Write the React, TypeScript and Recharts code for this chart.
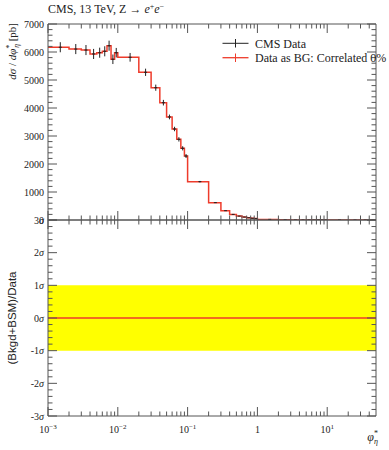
import React from "react";
import { ComposedChart, Line, Scatter, ErrorBar, XAxis, YAxis, ReferenceArea } from "recharts";

// bin edges in phi*_eta
const binEdges = [
    0.001, 0.002, 0.003, 0.004, 0.005, 0.006, 0.007, 0.008, 0.009,
    0.01, 0.02, 0.03, 0.04, 0.05, 0.06, 0.07, 0.08, 0.09,
    0.1, 0.2, 0.3, 0.4, 0.5, 0.6, 0.7, 0.8, 0.9,
    1, 2, 3, 4, 5, 6, 7, 8, 9,
    10, 20, 30, 40, 50,
];
// dsigma/dphi* [pb]
const dataValues = [
    6170, 6105, 6070, 5930, 5975, 6025, 6225, 5740, 5975,
    5810, 5275, 4725, 4190, 3680, 3250, 2880, 2560, 2285,
    1370, 620, 333, 200, 140, 105, 80, 62, 50,
    22, 7, 3, 2, 1.2, 0.8, 0.6, 0.4, 0.3,
    0.1, 0.03, 0.01, 0.005,
];
const dataErrors = [
    180, 180, 180, 180, 180, 180, 180, 170, 170,
    155, 130, 110, 100, 85, 80, 78, 75, 70,
    25, 12, 8, 6, 5, 4, 4, 3, 3,
    1, 0.5, 0.3, 0.2, 0.1, 0.1, 0.1, 0.1, 0.1,
    0.05, 0.02, 0.01, 0.005,
];
// "Data as BG" with 0% correlation is the data itself
const bgValues = dataValues;

const decadeTicks = [0.001, 0.01, 0.1, 1, 10];
const decadeBase = ["10", "10", "10", "1", "10"];
const decadeExp = ["\u22123", "\u22122", "\u22121", "", "1"];
const minorXTicks = [
    0.002, 0.003, 0.004, 0.005, 0.006, 0.007, 0.008, 0.009,
    0.02, 0.03, 0.04, 0.05, 0.06, 0.07, 0.08, 0.09,
    0.2, 0.3, 0.4, 0.5, 0.6, 0.7, 0.8, 0.9,
    2, 3, 4, 5, 6, 7, 8, 9, 20, 30, 40,
];
const upperTicks = [0, 1000, 2000, 3000, 4000, 5000, 6000, 7000];
const upperMinor = upperTicks.flatMap((t) => [200, 400, 600, 800].map((d) => t + d)).filter((v) => v < 7000);
const sigmaTicks = [-3, -2, -1, 0, 1, 2, 3];
const sigmaMinor = sigmaTicks.flatMap((t) => [0.2, 0.4, 0.6, 0.8].map((d) => +(t + d).toFixed(1))).filter((v) => v < 3);

const stepData = binEdges.map((e, i) => ({ x: e, y: bgValues[Math.min(i, bgValues.length - 1)] }));
const pointData = dataValues.map((v, i) => ({
    x: (binEdges[i] + binEdges[i + 1]) / 2,
    y: v,
    err: dataErrors[i],
}));
const pullData = binEdges.map((e, i) => {
    const k = Math.min(i, dataValues.length - 1);
    return { x: e, y: (bgValues[k] - dataValues[k]) / dataErrors[k] };
});

const W = 389;
const H = 450;
const FRAME = "#555";
const RED = "#ee3b2b";
const serif = "'Liberation Serif', serif";

const allX = [...decadeTicks, ...minorXTicks].sort((a, b) => a - b);

// tick with inward line; side = where the axis sits
const makeTick = (side: "bottom" | "top" | "left" | "right", majors: number[], label?: (v: number) => React.ReactNode) => (props: any) => {
    const { x, y, payload } = props;
    const v = payload.value;
    const major = majors.some((m) => Math.abs(m - v) < 1e-9);
    const len = major ? 9 : 4.5;
    let line = null;
    if (side === "bottom") line = <line x1={x} x2={x} y1={y} y2={y - len} stroke={FRAME} />;
    if (side === "top") line = <line x1={x} x2={x} y1={y} y2={y + len} stroke={FRAME} />;
    if (side === "left") line = <line x1={x} x2={x + len} y1={y} y2={y} stroke={FRAME} />;
    if (side === "right") line = <line x1={x} x2={x - len} y1={y} y2={y} stroke={FRAME} />;
    return (
        <g>
            {line}
            {major && label ? label(v) : null}
        </g>
    );
};

const decadeLabel = (x: number, y: number) => (v: number) => {
    const i = decadeTicks.indexOf(v);
    return (
        <text x={x} y={y + 17} textAnchor="middle" fontSize={10} fontFamily={serif} fill="#222">
            <tspan>{decadeBase[i]}</tspan>
            {decadeExp[i] && (
                <tspan dy={-4} fontSize={7}>
                    {decadeExp[i]}
                </tspan>
            )}
        </text>
    );
};

const BottomLabelTick = (props: any) =>
    makeTick("bottom", decadeTicks, decadeLabel(props.x, props.y))(props);

const NumLeftTick = (props: any) =>
    makeTick("left", upperTicks, (v) => (
        <text x={props.x - 4} y={props.y + 3.5} textAnchor="end" fontSize={10} fontFamily={serif} fill="#222">
            {v}
        </text>
    ))(props);

const SigmaLeftTick = (props: any) =>
    makeTick("left", sigmaTicks, (v) => (
        <text x={props.x - 4} y={props.y + 3.5} textAnchor="end" fontSize={10} fontFamily={serif} fill="#222">
            <tspan>{v < 0 ? `-${-v}` : `${v}`}</tspan>
            <tspan fontStyle="italic">{"\u03c3"}</tspan>
        </text>
    ))(props);

const Dash = (props: any) => {
    const { cx, cy } = props;
    if (cx == null || cy == null) return null;
    return <line x1={cx - 1.5} x2={cx + 1.5} y1={cy} y2={cy} stroke="#222" strokeWidth={1} />;
};

const xCommon = {
    type: "number" as const,
    scale: "log" as const,
    domain: [0.001, 50],
    allowDataOverflow: true,
    dataKey: "x",
    height: 1,
    interval: 0 as const,
    ticks: allX,
    tickSize: 0,
    tickMargin: 0,
    tickLine: false,
    stroke: FRAME,
};

const frameAxes = (domain: number[], yTicks: number[], leftTick: any, bottomTick: any) => [
    <XAxis key="xb" xAxisId="x" {...xCommon} orientation="bottom" tick={bottomTick} />,
    <XAxis key="xt" xAxisId="xt" {...xCommon} orientation="top" tick={makeTick("top", decadeTicks)} />,
    <YAxis key="yl" yAxisId="y" type="number" dataKey="y" domain={domain} allowDataOverflow width={1} ticks={yTicks} interval={0} tickSize={0} tickMargin={0} tickLine={false} tick={leftTick} stroke={FRAME} />,
    <YAxis key="yr" yAxisId="yr" orientation="right" type="number" domain={domain} allowDataOverflow width={1} ticks={yTicks} interval={0} tickSize={0} tickMargin={0} tickLine={false} tick={makeTick("right", domain[0] < 0 ? sigmaTicks : upperTicks)} stroke={FRAME} />,
];

const App = () => {
    return (
        <div style={{ position: "absolute", left: 0, top: 0, width: W, height: H, background: "#fff" }}>
            <div style={{ position: "absolute", left: 0, top: 0 }}>
                <ComposedChart width={W} height={H} margin={{ top: 23, right: 12, bottom: 229, left: 47 }}>
                    {frameAxes([0, 7000], [...upperTicks, ...upperMinor].sort((a, b) => a - b), NumLeftTick, makeTick("bottom", decadeTicks))}
                    <Line data={stepData} xAxisId="x" yAxisId="y" dataKey="y" type="stepAfter" stroke={RED} strokeWidth={1.5} dot={false} isAnimationActive={false} />
                    <Scatter data={pointData} xAxisId="x" yAxisId="y" dataKey="y" shape={Dash} isAnimationActive={false}>
                        <ErrorBar dataKey="err" direction="y" width={0} stroke="#222" strokeWidth={1} isAnimationActive={false} />
                    </Scatter>
                </ComposedChart>
            </div>
            <div style={{ position: "absolute", left: 0, top: 0 }}>
                <ComposedChart width={W} height={H} margin={{ top: 219, right: 12, bottom: 33, left: 47 }}>
                    {frameAxes([-3, 3], [...sigmaTicks, ...sigmaMinor].sort((a, b) => a - b), SigmaLeftTick, BottomLabelTick)}
                    <ReferenceArea xAxisId="x" yAxisId="y" x1={0.001} x2={50} y1={-1} y2={1} fill="#ffff00" fillOpacity={1} stroke="none" ifOverflow="hidden" />
                    <Line data={pullData} xAxisId="x" yAxisId="y" dataKey="y" type="stepAfter" stroke={RED} strokeWidth={1.3} dot={false} isAnimationActive={false} />
                </ComposedChart>
            </div>
            <svg width={W} height={H} style={{ position: "absolute", left: 0, top: 0, pointerEvents: "none" }}>
                <text x={48} y={13} fontSize={12} fontFamily={serif} fill="#222">
                    CMS, 13 TeV, Z {"\u2192"} <tspan fontStyle="italic">e</tspan>
                    <tspan dy={-4} fontSize={8}>+</tspan>
                    <tspan dy={4} fontStyle="italic">e</tspan>
                    <tspan dy={-4} fontSize={8}>{"\u2212"}</tspan>
                </text>
                <text transform="translate(16,23) rotate(-90)" textAnchor="end" fontSize={11} fontFamily={serif} fill="#222">
                    <tspan fontStyle="italic">d{"\u03c3"}</tspan> / <tspan fontStyle="italic">d{"\u03c6"}</tspan>
                    <tspan dy={-4} fontSize={7.5}>*</tspan>
                    <tspan dy={7} dx={-3} fontSize={7.5} fontStyle="italic">{"\u03b7"}</tspan>
                    <tspan dy={-3}> [pb]</tspan>
                </text>
                <text transform="translate(16,318) rotate(-90)" textAnchor="middle" fontSize={11.5} fontFamily="'Liberation Sans', sans-serif" fill="#222">
                    (Bkgd+BSM)/Data
                </text>
                <text x={378} y={441} textAnchor="end" fontSize={12} fontFamily={serif} fill="#222">
                    <tspan fontStyle="italic">{"\u03c6"}</tspan>
                    <tspan dy={-5} fontSize={8}>*</tspan>
                    <tspan dy={8} dx={-4} fontSize={8} fontStyle="italic">{"\u03b7"}</tspan>
                </text>
                <line x1={222.5} x2={248.5} y1={43.3} y2={43.3} stroke="#222" strokeWidth={1} />
                <line x1={235.5} x2={235.5} y1={39} y2={47.5} stroke="#222" strokeWidth={1} />
                <text x={255} y={47.5} fontSize={12} fontFamily={serif} fill="#222">CMS Data</text>
                <line x1={222.5} x2={248.5} y1={57.7} y2={57.7} stroke={RED} strokeWidth={1.3} />
                <line x1={235.5} x2={235.5} y1={53.5} y2={62} stroke={RED} strokeWidth={1} />
                <text x={255} y={62} fontSize={12} fontFamily={serif} fill="#222">Data as BG: Correlated 0%</text>
            </svg>
        </div>
    );
};

export default App;
